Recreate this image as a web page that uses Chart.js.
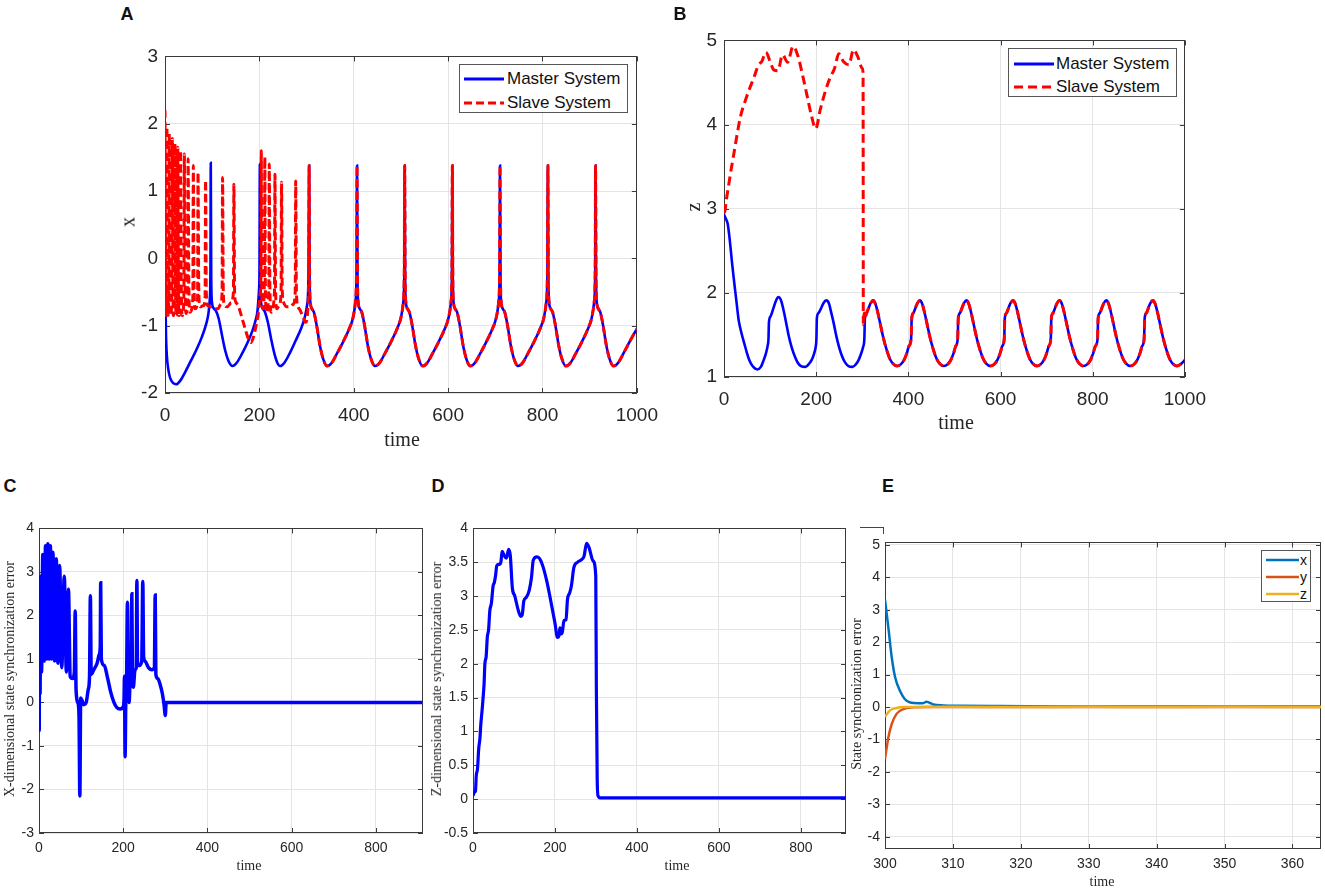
<!DOCTYPE html>
<html lang="en">
<head>
<meta charset="UTF-8">
<title>Master / slave synchronization</title>
<script src="https://cdn.jsdelivr.net/npm/chart.js"></script>
<style>
    body { margin: 0; background: #fff; }
    #page { position: relative; width: 1325px; height: 891px; overflow: hidden; font-family: "Liberation Sans", Arial, sans-serif; }
    canvas { position: absolute; }
    .txt { position: absolute; transform: translate(-50%, -50%); white-space: nowrap; color: #262626; }
    .serif { font-family: "Liberation Serif", "Times New Roman", serif; }
    .rot { transform: translate(-50%, -50%) rotate(-90deg); }
    .letter { font-weight: bold; font-size: 18px; color: #111; }
    .legend { position: absolute; border: 1px solid #555; background: #fff; box-sizing: border-box; }
    .legend svg { position: absolute; }
    .legend span { position: absolute; transform: translateY(-50%); color: #111; white-space: nowrap; }
</style>
</head>
<body>
<div id="page">
    <canvas id="chartA"></canvas>
    <canvas id="chartB"></canvas>
    <canvas id="chartC"></canvas>
    <canvas id="chartD"></canvas>
    <canvas id="chartE"></canvas>

    <div class="txt letter" style="left:127px;top:14px">A</div>
    <div class="txt letter" style="left:680px;top:14px">B</div>
    <div class="txt letter" style="left:10px;top:486px">C</div>
    <div class="txt letter" style="left:438px;top:486px">D</div>
    <div class="txt letter" style="left:888px;top:486px">E</div>

    <div class="txt serif rot" style="left:128px;top:222px;font-size:20px">x</div>
    <div class="txt serif" style="left:402px;top:439px;font-size:20px">time</div>
    <div class="txt serif rot" style="left:693px;top:207px;font-size:20px">z</div>
    <div class="txt serif" style="left:956px;top:422px;font-size:20px">time</div>
    <div class="txt serif rot" style="left:10px;top:679px;font-size:14px">X-dimensional state synchronization error</div>
    <div class="txt serif" style="left:249px;top:866px;font-size:14px">time</div>
    <div class="txt serif rot" style="left:437px;top:679px;font-size:14px">Z-dimensional state synchronization error</div>
    <div class="txt serif" style="left:677px;top:866px;font-size:14px">time</div>
    <div class="txt serif rot" style="left:857px;top:694px;font-size:14px">State synchronization error</div>
    <div class="txt serif" style="left:1102px;top:882px;font-size:14px">time</div>

    <div style="position:absolute;left:860px;top:527px;width:23px;height:6px;border-top:1px solid #444;border-right:1px solid #444"></div>

    <div class="legend" style="left:459px;top:64px;width:169px;height:49px">
        <svg style="left:4px;top:11px" width="40" height="6"><line x1="0" y1="3" x2="40" y2="3" stroke="#0000ff" stroke-width="3"/></svg>
        <span style="left:47px;top:14px;font-size:17px">Master System</span>
        <svg style="left:4px;top:35px" width="40" height="6"><line x1="0" y1="3" x2="40" y2="3" stroke="#ff0000" stroke-width="3" stroke-dasharray="8 4"/></svg>
        <span style="left:47px;top:38px;font-size:17px">Slave System</span>
    </div>
    <div class="legend" style="left:1008px;top:48px;width:169px;height:49px">
        <svg style="left:5px;top:12px" width="40" height="6"><line x1="0" y1="3" x2="40" y2="3" stroke="#0000ff" stroke-width="3"/></svg>
        <span style="left:47px;top:15px;font-size:17px">Master System</span>
        <svg style="left:5px;top:35px" width="40" height="6"><line x1="0" y1="3" x2="40" y2="3" stroke="#ff0000" stroke-width="3" stroke-dasharray="9 5"/></svg>
        <span style="left:47px;top:38px;font-size:17px">Slave System</span>
    </div>
    <div class="legend" style="left:1261px;top:550px;width:50px;height:52px">
        <svg style="left:4px;top:7px" width="33" height="4"><line x1="0" y1="2" x2="33" y2="2" stroke="#0072BD" stroke-width="2.5"/></svg>
        <span style="left:38px;top:9px;font-size:14px">x</span>
        <svg style="left:4px;top:24px" width="33" height="4"><line x1="0" y1="2" x2="33" y2="2" stroke="#D95319" stroke-width="2.5"/></svg>
        <span style="left:38px;top:26px;font-size:14px">y</span>
        <svg style="left:4px;top:41px" width="33" height="4"><line x1="0" y1="2" x2="33" y2="2" stroke="#EDB120" stroke-width="2.5"/></svg>
        <span style="left:38px;top:43px;font-size:14px">z</span>
    </div>
</div>

<script>
// ---- tick values of every axis ----
const ticksTime = [0, 200, 400, 600, 800, 1000];
const ticksTimeShort = [0, 200, 400, 600, 800];
const ticksXA = [-2, -1, 0, 1, 2, 3];
const ticksZB = [1, 2, 3, 4, 5];
const ticksErrX = [-3, -2, -1, 0, 1, 2, 3, 4];
const ticksErrZ = [-0.5, 0, 0.5, 1, 1.5, 2, 2.5, 3, 3.5, 4];
const ticksTimeE = [300, 310, 320, 330, 340, 350, 360];
const ticksErrE = [-4, -3, -2, -1, 0, 1, 2, 3, 4, 5];

// ---- panel A: x(t), master and slave before synchronization (t < 305) ----
const masterXEarly = [[0,0.3],[1,-0.6],[2,-1.1],[4,-1.45],[7,-1.65],[11,-1.78],[17,-1.85],[24,-1.87],[32,-1.82],[42,-1.7],[55,-1.52],[67,-1.35],[78,-1.17],[87,-0.98],[92,-0.82],[95,-0.6],[96.3,-0.2],[97,1.42],[98,-0.3],[99.5,-0.65],[103,-0.74],[108,-0.78],[114,-0.9],[121,-1.15],[128,-1.38],[135,-1.53],[143,-1.6],[152,-1.55],[163,-1.42],[175,-1.25],[185,-1.08],[192,-0.92],[196,-0.78],[199,-0.5],[200.2,-0.2],[201,1.4],[202,-0.3],[203.5,-0.65],[207,-0.74],[212,-0.8],[218,-0.95],[225,-1.2],[232,-1.42],[238,-1.55],[244,-1.6],[253,-1.55],[265,-1.4],[277,-1.22],[288,-1.05],[296,-0.88],[301,-0.7],[304,-0.3]];
const slaveXEarly = [[0,2.2],[1.5,-0.5],[2.5,-0.85],[3.4,-0.4],[4,1.95],[5,-0.3],[6.3,-0.85],[8.2,-0.5],[9,1.85],[10.2,-0.4],[11.5,-0.85],[14.5,-0.55],[15.5,1.78],[16.7,-0.4],[18,-0.85],[20,-0.6],[21,1.7],[22.3,-0.4],[23.8,-0.85],[26,-0.6],[27,1.65],[28.3,-0.4],[30,-0.85],[32,-0.6],[33,1.6],[34.5,-0.4],[36.5,-0.85],[40,-0.6],[41,1.55],[42.5,-0.4],[44.5,-0.82],[48,-0.6],[49,1.48],[50.5,-0.4],[53,-0.8],[59,-0.6],[60,1.38],[61.5,-0.4],[64,-0.75],[69,-0.62],[70,1.28],[71.5,-0.45],[74,-0.72],[82,-0.7],[85,-0.55],[86,1.16],[87.5,-0.5],[90,-0.7],[96,-0.72],[100,-0.72],[106,-0.75],[112,-0.75],[118,-0.68],[121,-0.5],[122,1.2],[123.5,-0.5],[126,-0.7],[132,-0.72],[140,-0.66],[145,-0.5],[146,1.1],[147.5,-0.5],[150,-0.65],[156,-0.72],[163,-0.88],[170,-1.05],[177,-1.2],[182,-1.25],[187,-1.18],[193,-1.0],[198,-0.8],[202,-0.5],[203.5,-0.1],[204,1.6],[205,-0.4],[207,-0.75],[210.5,-0.4],[211.5,1.5],[212.7,-0.4],[215,-0.8],[220,-0.45],[221,1.4],[222.3,-0.45],[225,-0.8],[232,-0.5],[233,1.25],[234.3,-0.45],[237,-0.75],[242,-0.7],[246,-0.5],[247,1.13],[248.4,-0.45],[251,-0.65],[258,-0.72],[266,-0.72],[272,-0.68],[276,-0.5],[277,1.15],[278.4,-0.45],[281,-0.7],[287,-0.78],[293,-0.88],[298,-0.95],[301,-0.9],[303,-0.7],[304.5,-0.3]];
// both systems after t = 305 (synchronized spikes)
const xSync = [
    [305.5,1.38],[306.5,-0.3],[308,-0.65],[311.5,-0.75],[315.5,-0.8],[321.5,-1.0],[328.5,-1.3],[335.5,-1.5],[343.5,-1.6],[353.5,-1.55],[365.5,-1.4],[377.5,-1.24],[389.5,-1.06],[398.5,-0.88],[403.5,-0.65],[405.8,-0.25],
    [407,1.38],[408,-0.3],[409.5,-0.65],[413,-0.75],[417,-0.8],[423,-1.0],[430,-1.3],[437,-1.5],[445,-1.6],[455,-1.55],[467,-1.4],[479,-1.24],[491,-1.06],[500,-0.88],[505,-0.65],[507,-0.25],
    [508,1.38],[509,-0.3],[510.5,-0.65],[514,-0.75],[518,-0.8],[524,-1.0],[531,-1.3],[538,-1.5],[546,-1.6],[556,-1.55],[568,-1.4],[580,-1.24],[592,-1.06],[601,-0.88],[606,-0.65],[608,-0.25],
    [609,1.38],[610,-0.3],[611.5,-0.65],[615,-0.75],[619,-0.8],[625,-1.0],[632,-1.3],[639,-1.5],[647,-1.6],[657,-1.55],[669,-1.4],[681,-1.24],[693,-1.06],[702,-0.88],[707,-0.65],[709,-0.25],
    [710,1.38],[711,-0.3],[712.5,-0.65],[716,-0.75],[720,-0.8],[726,-1.0],[733,-1.3],[740,-1.5],[748,-1.6],[758,-1.55],[770,-1.4],[782,-1.24],[794,-1.06],[803,-0.88],[808,-0.65],[810.3,-0.25],
    [811.5,1.38],[812.5,-0.3],[814,-0.65],[817.5,-0.75],[821.5,-0.8],[827.5,-1.0],[834.5,-1.3],[841.5,-1.5],[849.5,-1.6],[859.5,-1.55],[871.5,-1.4],[883.5,-1.24],[895.5,-1.06],[904.5,-0.88],[909.5,-0.65],[911.6,-0.25],
    [912.5,1.38],[913.5,-0.3],[915,-0.65],[918.5,-0.75],[922.5,-0.8],[928.5,-1.0],[935.5,-1.3],[942.5,-1.5],[950.5,-1.6],[960.5,-1.55],[972.5,-1.4],[984.5,-1.24],[996.5,-1.09],[1000,-1.05]
];

// ---- panel B: z(t) ----
const masterZEarly = [[0,2.93],[5,2.87],[8,2.82],[11,2.7],[14,2.55],[17,2.38],[21,2.18],[25,1.99],[28,1.85],[32,1.67],[38,1.52],[44,1.4],[50,1.28],[55,1.2],[62,1.13],[72,1.09],[80,1.12],[86,1.2],[91,1.28],[95,1.38],[96.5,1.45],[97.5,1.65],[101,1.72],[108,1.83],[113,1.91],[118,1.95],[123,1.92],[129,1.8],[135,1.64],[140,1.5],[147,1.35],[154,1.24],[160,1.17],[167,1.13],[177,1.12],[185,1.16],[190,1.2],[195,1.27],[199,1.36],[200.5,1.45],[201.5,1.7],[205,1.76],[211,1.82],[216,1.88],[222,1.91],[228,1.87],[232,1.78],[238,1.64],[244,1.48],[250,1.35],[256,1.25],[262,1.18],[270,1.13],[279,1.12],[286,1.15],[292,1.2],[297,1.27],[302,1.36],[304.5,1.45]];
const slaveZEarly = [[0,2.95],[2,2.97],[5,3.1],[9,3.24],[15,3.45],[21,3.64],[28,3.87],[36,4.1],[46,4.28],[55,4.42],[65,4.56],[75,4.71],[82,4.75],[91,4.86],[100,4.75],[108,4.65],[117,4.64],[127,4.83],[138,4.74],[150,4.93],[160,4.82],[170,4.6],[180,4.35],[190,4.1],[199,3.95],[209,4.18],[219,4.38],[229,4.54],[240,4.67],[249,4.84],[259,4.75],[271,4.71],[281,4.89],[290,4.81],[300,4.67],[301.8,4.6],[302.3,1.62],[304,1.76],[305,1.7]];
const zSync = [
    [305.8,1.70],[309.5,1.76],[314.5,1.83],[318.5,1.88],[323.5,1.91],[328.5,1.87],[333.5,1.77],[339.5,1.62],[345.5,1.47],[352.5,1.33],[359.5,1.22],[366.5,1.16],[375.5,1.13],[383.5,1.15],[390.5,1.2],[396.5,1.28],[401.5,1.37],[406,1.45],
    [407.3,1.70],[411,1.76],[416,1.83],[420,1.88],[425,1.91],[430,1.87],[435,1.77],[441,1.62],[447,1.47],[454,1.33],[461,1.22],[468,1.16],[477,1.13],[485,1.15],[492,1.2],[498,1.28],[503,1.37],[507,1.45],
    [508.3,1.70],[512,1.76],[517,1.83],[521,1.88],[526,1.91],[531,1.87],[536,1.77],[542,1.62],[548,1.47],[555,1.33],[562,1.22],[569,1.16],[578,1.13],[586,1.15],[593,1.2],[599,1.28],[604,1.37],[608,1.45],
    [609.3,1.70],[613,1.76],[618,1.83],[622,1.88],[627,1.91],[632,1.87],[637,1.77],[643,1.62],[649,1.47],[656,1.33],[663,1.22],[670,1.16],[679,1.13],[687,1.15],[694,1.2],[700,1.28],[705,1.37],[709,1.45],
    [710.3,1.70],[714,1.76],[719,1.83],[723,1.88],[728,1.91],[733,1.87],[738,1.77],[744,1.62],[750,1.47],[757,1.33],[764,1.22],[771,1.16],[780,1.13],[788,1.15],[795,1.2],[801,1.28],[806,1.37],[810.5,1.45],
    [811.8,1.70],[815.5,1.76],[820.5,1.83],[824.5,1.88],[829.5,1.91],[834.5,1.87],[839.5,1.77],[845.5,1.62],[851.5,1.47],[858.5,1.33],[865.5,1.22],[872.5,1.16],[881.5,1.13],[889.5,1.15],[896.5,1.2],[902.5,1.28],[907.5,1.37],[911.5,1.45],
    [912.8,1.70],[916.5,1.76],[921.5,1.83],[925.5,1.88],[930.5,1.91],[935.5,1.87],[940.5,1.77],[946.5,1.62],[952.5,1.47],[959.5,1.33],[966.5,1.22],[973.5,1.16],[982.5,1.13],[990.5,1.15],[1000,1.2]
];

// ---- panel C: x synchronization error ----
const errX = [[0,0],[0.5,-0.65],[1.2,2.2],[2.5,0.2],[4,2.9],[6,0.7],[9,3.4],[12,0.95],[15.5,3.6],[18.5,1.0],[21,3.65],[24,1.0],[27,3.6],[30,1.0],[33,3.45],[37,0.95],[41,3.3],[45,0.9],[49,3.15],[54,0.8],[60,2.9],[65,0.7],[70,2.6],[74,0.6],[80,0.55],[84,0.7],[86,2.1],[88,0.3],[92,0.0],[95,-0.3],[97,-2.15],[99,0.1],[102,0.05],[106,-0.05],[112,0.0],[117,0.3],[120,0.6],[122,2.45],[124,0.65],[130,0.75],[138,0.9],[143,1.1],[145.5,1.3],[146.5,2.75],[148,1.0],[155,0.85],[162,0.6],[170,0.25],[178,0.0],[185,-0.12],[193,-0.15],[200,-0.1],[202,0.1],[203,0.6],[204.5,-1.25],[206,-0.05],[208,0.5],[210,2.3],[212,0.6],[214,0.0],[216,0.35],[219,0.5],[220.5,2.5],[222,0.45],[224,0.35],[228,0.75],[231,0.8],[232.5,2.8],[234,0.85],[238,0.85],[244,0.95],[246.5,2.78],[248.5,1.05],[252,0.95],[260,0.8],[268,0.75],[274,0.8],[276,2.47],[277.5,0.65],[282,0.55],[288,0.4],[293,0.2],[297,-0.05],[300,-0.3],[302,0.0],[910,0.0]];

// ---- panel D: z synchronization error ----
const errZ = [[0,0.05],[3,0.1],[6,0.12],[8,0.35],[11,0.45],[14,0.75],[17,0.9],[19,1.1],[22,1.3],[24,1.45],[27,1.7],[29,2.0],[32,2.1],[35,2.4],[38,2.5],[41,2.78],[45,2.9],[49,3.15],[52,3.2],[55,3.3],[58,3.45],[65,3.47],[68,3.5],[71,3.66],[76,3.6],[81.5,3.56],[87,3.69],[91,3.6],[96,3.12],[102,3.0],[110,2.8],[116.5,2.7],[120,2.72],[124,2.93],[130,2.98],[137,3.08],[142.6,3.27],[147,3.53],[156,3.58],[163,3.55],[170,3.45],[180,3.22],[190,2.92],[200,2.6],[206,2.39],[210,2.42],[212,2.53],[215,2.44],[218,2.47],[222,2.64],[227,2.65],[230.5,2.95],[236,3.05],[240,3.15],[246,3.42],[255,3.5],[265,3.54],[271,3.59],[277,3.78],[283,3.72],[293,3.52],[299.5,3.3],[301,1.6],[303,0.3],[305,0.05],[310,0.02],[910,0.02]];

// ---- panel E: state errors after t = 300 ----
const errEx = [[300,3.31],[300.5,2.44],[301,1.52],[301.5,0.91],[302.2,0.5],[302.9,0.25],[303.7,0.14],[304.9,0.12],[305.6,0.12],[306.1,0.16],[307.1,0.08],[308.6,0.05],[311,0.04],[316,0.03],[325,0.02],[364.2,0.02]];
const errEy = [[300,-1.6],[300.5,-0.93],[301,-0.52],[301.7,-0.21],[302.7,-0.06],[304.2,-0.01],[306,0],[364.2,0]];
const errEz = [[300,-0.3],[300.7,-0.11],[301.7,-0.03],[302.7,0],[310,0.01],[320,0],[330,0.01],[340,0],[350,0.01],[364.2,0]];

const pts = a => a.map(p => ({ x: p[0], y: p[1] }));

// draws the MATLAB style box and inward ticks on all four sides
const frame = {
    id: 'frame',
    beforeDatasetsDraw(chart) {
        const { ctx, chartArea: a, scales: { x, y } } = chart;
        const L = 5;
        ctx.save();
        ctx.strokeStyle = '#3a3a3a';
        ctx.lineWidth = 1;
        ctx.strokeRect(Math.round(a.left) + 0.5, Math.round(a.top) + 0.5, Math.round(a.right - a.left) - 1, Math.round(a.bottom - a.top) - 1);
        ctx.beginPath();
        x.ticks.forEach(t => {
            const p = Math.round(x.getPixelForValue(t.value)) + 0.5;
            ctx.moveTo(p, a.bottom); ctx.lineTo(p, a.bottom - L);
            ctx.moveTo(p, a.top); ctx.lineTo(p, a.top + L);
        });
        y.ticks.forEach(t => {
            const p = Math.round(y.getPixelForValue(t.value)) + 0.5;
            ctx.moveTo(a.left, p); ctx.lineTo(a.left + L, p);
            ctx.moveTo(a.right, p); ctx.lineTo(a.right - L, p);
        });
        ctx.stroke();
        ctx.restore();
    }
};

function axis(min, max, tickList, size, pad, fit, isX) {
    return {
        type: 'linear', min: min, max: max,
        ticks: { color: '#262626', padding: pad, maxRotation: 0, autoSkip: false,
                 font: { family: '"Liberation Sans", Arial, sans-serif', size: size },
                 callback: v => String(Math.round(v * 100) / 100) },
        grid: { color: '#e4e4e4', drawTicks: false, lineWidth: 1 },
        border: { display: false },
        afterBuildTicks: s => { s.ticks = tickList.map(v => ({ value: v })); },
        afterFit: s => { if (isX) s.height = fit; else s.width = fit; }
    };
}

function line(data, color, width, dash, order) {
    return { data: pts(data), borderColor: color, borderWidth: width, borderDash: dash || [],
             pointRadius: 0, fill: false, cubicInterpolationMode: 'monotone', order: order };
}

// g: plot rect [left, top, right, bottom] in page pixels, p: [yAxisWidth, padTop, padRight, xAxisHeight]
function panel(id, g, p, datasets, xs, ys) {
    const c = document.getElementById(id);
    c.width = g[2] - g[0] + p[0] + p[2];
    c.height = g[3] - g[1] + p[1] + p[3];
    c.style.left = (g[0] - p[0]) + 'px';
    c.style.top = (g[1] - p[1]) + 'px';
    new Chart(c.getContext('2d'), {
        type: 'line',
        data: { datasets: datasets },
        options: {
            responsive: false, animation: false, devicePixelRatio: 1,
            layout: { padding: { left: 0, top: p[1], right: p[2], bottom: 0 } },
            plugins: { legend: { display: false }, tooltip: { enabled: false } },
            scales: { x: xs, y: ys }
        },
        plugins: [frame]
    });
}

panel('chartA', [165, 53, 639, 393], [50, 15, 30, 40], [
    line(masterXEarly.concat(xSync), '#0000ff', 2.6, null, 2),
    line(slaveXEarly.concat(xSync), '#ff0000', 3, [8, 4], 1)
], axis(0, 1000, ticksTime, 19, 11, 40, true), axis(-2, 3, ticksXA, 19, 7, 50, false));

panel('chartB', [724, 37, 1187, 377], [45, 15, 30, 40], [
    line(masterZEarly.concat(zSync), '#0000ff', 2.6, null, 2),
    line(slaveZEarly.concat(zSync), '#ff0000', 3, [9, 5], 1)
], axis(0, 1000, ticksTime, 19, 11, 40, true), axis(1, 5, ticksZB, 19, 7, 45, false));

panel('chartC', [39, 527, 423, 833], [36, 12, 15, 35], [
    line(errX, '#0000ff', 3.5, null, 1)
], axis(0, 912, ticksTimeShort, 14, 7, 35, true), axis(-3, 4, ticksErrX, 14, 5, 36, false));

panel('chartD', [473, 527, 846, 833], [40, 12, 15, 35], [
    line(errZ, '#0000ff', 3.2, null, 1)
], axis(0, 910, ticksTimeShort, 14, 7, 35, true), axis(-0.5, 4, ticksErrZ, 14, 5, 40, false));

panel('chartE', [885, 541, 1321, 849], [30, 12, 4, 35], [
    line(errEx, '#0072BD', 2.5, null, 3),
    line(errEy, '#D95319', 2.5, null, 2),
    line(errEz, '#EDB120', 2.5, null, 1)
], axis(300, 364.2, ticksTimeE, 14, 7, 35, true), axis(-4.38, 5.08, ticksErrE, 14, 5, 30, false));
</script>
</body>
</html>
